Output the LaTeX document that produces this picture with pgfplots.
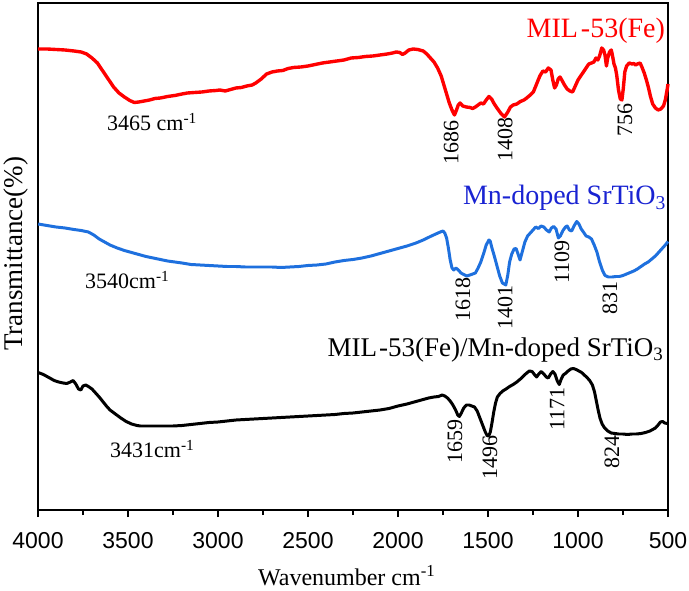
\documentclass[border=0pt]{standalone}
\usepackage{pgfplots}
\pgfplotsset{compat=1.18}
\usepackage{fontspec}
\setmainfont{Liberation Serif}
\newfontfamily\arial{Liberation Sans}

\definecolor{milred}{RGB}{255,0,0}
\definecolor{mnblue}{RGB}{30,112,222}
\definecolor{mntext}{RGB}{25,35,210}

\newcommand{\fs}[1]{\fontsize{#1bp}{#1bp}\selectfont}

\begin{document}
\begin{tikzpicture}
\useasboundingbox (0,0) rectangle (689bp,591bp);
\begin{axis}[
  at={(38bp,81bp)}, anchor=south west,
  scale only axis, width=630bp, height=507bp,
  x dir=reverse,
  xmin=500, xmax=4000, ymin=-510, ymax=-3,
  axis line style={line width=1.4pt},
  xtick={500,1000,...,4000},
  minor xtick={750,1250,...,3750},
  ytick=\empty,
  xtick pos=bottom,
  tick align=outside,
  major tick length=7bp, minor tick length=5bp,
  tick style={line width=1.2pt, black},
  /pgf/number format/set thousands separator={},
  /pgf/number format/assume math mode=true,
  xticklabel style={font=\arial\fs{23}, yshift=-12bp},
  clip=false,
]
% MIL-53(Fe)
\addplot[milred, line width=3.4pt, line join=round] coordinates {
(3999,-49) (3950,-49) (3900,-49.5) (3850,-50) (3800,-51) (3760,-52) (3730,-54)
(3700,-58) (3670,-63) (3640,-71) (3610,-79) (3580,-87) (3550,-93) (3520,-97)
(3490,-100.5) (3465,-102.5) (3440,-102) (3410,-101) (3380,-100) (3350,-98.5)
(3320,-98) (3280,-96.5) (3240,-95.5) (3200,-94) (3170,-93) (3130,-92.5)
(3090,-92) (3050,-91) (3010,-90.5) (2990,-90) (2960,-91) (2930,-89.5)
(2900,-88) (2870,-87.5) (2840,-86) (2810,-85) (2790,-83) (2760,-79)
(2730,-74) (2700,-72) (2670,-71) (2640,-70.5) (2610,-68.5) (2580,-67.5)
(2540,-67) (2500,-66) (2460,-64.5) (2420,-63) (2380,-62) (2340,-61)
(2300,-60) (2260,-58) (2220,-57.5) (2180,-56.5) (2140,-56) (2100,-55)
(2060,-54) (2030,-53) (2010,-52) (1990,-52.5) (1975,-54.5) (1960,-53)
(1940,-50) (1915,-49) (1890,-49.5) (1860,-51) (1840,-54) (1820,-58)
(1800,-62) (1780,-68) (1760,-76) (1745,-85) (1730,-94) (1715,-103)
(1700,-110) (1686,-115) (1675,-110) (1665,-105) (1655,-103) (1640,-106)
(1620,-107) (1600,-107.5) (1585,-108.5) (1570,-107) (1555,-105) (1540,-103)
(1525,-104) (1510,-100) (1495,-96.5) (1480,-99) (1465,-104) (1450,-108)
(1430,-113) (1408,-117) (1390,-112) (1375,-107) (1360,-105) (1340,-104)
(1320,-101.5) (1300,-100) (1285,-98) (1265,-95) (1248,-92) (1230,-84)
(1212,-76) (1195,-71) (1180,-72) (1165,-68) (1150,-70) (1140,-80)
(1130,-88) (1120,-85) (1110,-79) (1100,-77) (1090,-80) (1075,-85)
(1060,-89) (1045,-91) (1030,-92) (1015,-86) (1000,-80) (985,-76)
(970,-72) (955,-68) (940,-64) (925,-63) (912,-62) (900,-58) (890,-60)
(880,-56) (868,-48) (858,-50) (850,-55) (842,-66) (835,-58) (825,-52)
(815,-50) (808,-56) (800,-64) (792,-68) (785,-75) (775,-90) (765,-99)
(756,-100) (748,-88) (740,-72) (730,-66) (715,-63) (700,-64) (690,-63.5)
(680,-65) (670,-64) (655,-63) (645,-67) (632,-73) (620,-80) (608,-88)
(598,-96) (585,-104) (570,-108) (555,-110) (540,-109) (525,-106)
(515,-100) (505,-90) (500,-84)
};
% Mn-doped SrTiO3
\addplot[mnblue, line width=3.0pt, line join=round] coordinates {
(3999,-224) (3950,-225.5) (3900,-227) (3850,-228) (3800,-229.5) (3760,-230.5)
(3720,-232) (3690,-235) (3660,-239) (3630,-242) (3600,-245) (3560,-248)
(3520,-250.5) (3480,-252.5) (3440,-254.5) (3400,-256.5) (3360,-258)
(3320,-259.5) (3280,-261) (3240,-262) (3200,-263) (3150,-264.5) (3100,-265)
(3050,-265.5) (3000,-266) (2950,-266.5) (2900,-266.5) (2850,-267) (2800,-267)
(2750,-267) (2700,-267) (2650,-267.5) (2600,-267) (2550,-266.5) (2500,-265.5)
(2450,-265) (2400,-264) (2350,-262) (2300,-260.5) (2250,-259.5) (2200,-258)
(2150,-256) (2100,-253.5) (2050,-251) (2000,-248.5) (1950,-246) (1900,-243)
(1860,-240) (1820,-236.5) (1790,-234) (1765,-232) (1750,-231) (1740,-233)
(1730,-238) (1720,-248) (1710,-260) (1700,-268) (1690,-270) (1678,-268)
(1665,-270) (1650,-273) (1635,-274.5) (1618,-276) (1600,-275) (1585,-274)
(1570,-273) (1555,-268) (1540,-262) (1525,-254) (1510,-245) (1495,-240)
(1488,-241) (1478,-248) (1465,-256) (1450,-266) (1435,-276) (1420,-283)
(1401,-285) (1390,-275) (1380,-262) (1368,-254) (1355,-249) (1344,-248.5)
(1335,-253) (1322,-260) (1310,-252) (1295,-242) (1280,-236) (1265,-233)
(1250,-230) (1235,-227) (1220,-228.5) (1205,-226) (1190,-227) (1175,-230)
(1160,-232) (1148,-228) (1135,-226.5) (1122,-229) (1109,-238) (1098,-236)
(1085,-231) (1070,-227) (1060,-226) (1048,-230) (1035,-231) (1022,-226)
(1007,-221.5) (995,-224) (982,-229) (970,-232) (955,-236) (940,-237)
(925,-239) (910,-245) (895,-252) (880,-262) (865,-270) (850,-275.5)
(831,-277) (810,-277) (790,-276.5) (770,-276.5) (750,-275.5) (730,-274)
(710,-272.5) (690,-271) (670,-269) (650,-266.5) (630,-264) (610,-262)
(590,-259) (570,-256) (550,-252) (530,-248) (515,-245) (500,-241.5)
};
% MIL-53(Fe)/Mn-doped SrTiO3
\addplot[black, line width=3.0pt, line join=round] coordinates {
(3999,-372.5) (3970,-374.5) (3940,-377.5) (3910,-380.5) (3885,-382) (3860,-383)
(3840,-383.5) (3820,-382) (3805,-380.5) (3790,-384) (3775,-389) (3762,-390)
(3750,-386) (3735,-385) (3720,-386.5) (3700,-389) (3680,-393) (3660,-397)
(3640,-401.5) (3620,-406) (3600,-410) (3570,-414) (3540,-418) (3510,-421.5)
(3480,-424) (3450,-425.5) (3431,-426) (3400,-426) (3350,-426) (3300,-426)
(3250,-426) (3200,-425.5) (3150,-424.5) (3100,-423.5) (3050,-422.5)
(3000,-422) (2950,-421) (2900,-420) (2850,-419.5) (2800,-419) (2750,-418.5)
(2700,-418) (2650,-417.5) (2600,-417) (2550,-416.5) (2500,-416) (2450,-415.5)
(2400,-415) (2350,-414.5) (2300,-413.5) (2250,-413) (2200,-412) (2150,-411)
(2100,-410) (2050,-408.5) (2000,-406) (1950,-404) (1900,-401.5) (1860,-399.5)
(1830,-398) (1800,-397) (1775,-396.5) (1755,-395) (1740,-396) (1725,-398)
(1710,-401) (1695,-405) (1680,-410) (1668,-415) (1659,-416.5) (1648,-413)
(1635,-408) (1620,-405) (1605,-405) (1590,-406) (1575,-407) (1560,-411)
(1545,-418) (1530,-425) (1515,-432) (1505,-435.5) (1496,-436) (1487,-432)
(1478,-423) (1468,-412) (1458,-403) (1448,-397) (1433,-393.5) (1418,-391)
(1400,-389) (1380,-386.5) (1360,-384.5) (1340,-382) (1320,-379) (1300,-375.5)
(1285,-373) (1270,-371) (1255,-371.5) (1240,-375) (1230,-377) (1218,-374)
(1205,-371.5) (1190,-374) (1176,-377) (1165,-378) (1152,-374) (1140,-371.5)
(1128,-374) (1115,-381) (1104,-384.5) (1093,-379) (1082,-375) (1070,-373.5)
(1055,-371) (1040,-369) (1026,-368.5) (1010,-369.5) (995,-371) (980,-372.5)
(965,-375) (950,-377.5) (935,-380.5) (920,-385) (908,-392) (898,-401)
(888,-410) (878,-418) (866,-424) (852,-428) (835,-431) (815,-433)
(795,-433.5) (775,-434) (750,-434) (725,-434.5) (700,-434) (675,-434)
(650,-433.5) (625,-432.5) (600,-431) (585,-429.5) (570,-428) (555,-425)
(542,-422) (530,-421.5) (518,-423) (505,-423.5) (500,-423.5)
};

% sample names
\node[anchor=base east, text=milred, font=\fs{28}, inner sep=0pt] at (axis cs:516,-38) {MIL\kern3bp-53(Fe)};
\node[anchor=base east, text=mntext, font=\fs{28}, inner sep=0pt] at (axis cs:510,-205) {Mn-doped SrTiO\textsubscript{3}};
\node[anchor=base east, font=\fs{27}, inner sep=0pt] at (axis cs:525,-357) {MIL\kern2bp-53(Fe)/Mn-doped SrTiO\textsubscript{3}};

% band positions
\begin{scope}[every node/.style={font=\fs{22}, inner sep=0pt}]
\node[anchor=base west] at (axis cs:3617,-131) {3465 cm\textsuperscript{-1}};
\node[rotate=90] at (axis cs:1705,-143) {1686};
\node[rotate=90] at (axis cs:1405,-140) {1408};
\node[rotate=90] at (axis cs:739,-120) {756};

\node[anchor=base west] at (axis cs:3739,-289) {3540cm\textsuperscript{-1}};
\node[rotate=90] at (axis cs:1639,-300) {1618};
\node[rotate=90] at (axis cs:1405,-308) {1401};
\node[rotate=90] at (axis cs:1089,-262) {1109};
\node[rotate=90] at (axis cs:822,-298) {831};

\node[anchor=base west] at (axis cs:3600,-458) {3431cm\textsuperscript{-1}};
\node[rotate=90] at (axis cs:1683,-442) {1659};
\node[rotate=90] at (axis cs:1489,-458) {1496};
\node[rotate=90] at (axis cs:1116,-409) {1171};
\node[rotate=90] at (axis cs:811,-452) {824};
\end{scope}

% axis titles
\node[anchor=base, font=\fs{24}] at ([yshift=-75bp]rel axis cs:0.49,0) {Wavenumber cm\textsuperscript{-1}};
\node[rotate=90, anchor=base, font=\fs{27}, inner sep=0pt] at ([xshift=-15bp]rel axis cs:0,0.505) {Transmittance(\%)};
\end{axis}
\end{tikzpicture}
\end{document}
